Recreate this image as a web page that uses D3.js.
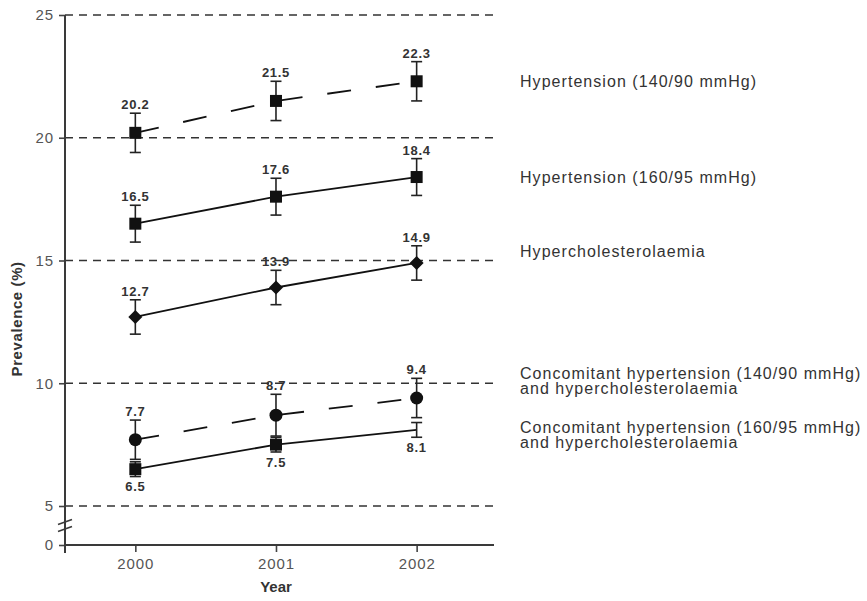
<!DOCTYPE html>
<html>
<head>
<meta charset="utf-8">
<script src="https://cdn.jsdelivr.net/npm/d3@7"></script>
<style>
  body { margin: 0; background: #fff; }
  svg { font-family: "Liberation Sans", Arial, Helvetica, sans-serif; }
</style>
</head>
<body>
<div id="container"></div>
<script>
// years on the x axis and tick values
const years = [2000, 2001, 2002];
const yTicks = [0, 5, 10, 15, 20, 25];
const gridValues = [5, 10, 15, 20, 25];

// prevalence (%) by year, with error half-widths
const htn14090 = [20.2, 21.5, 22.3];
const htn14090Err = [0.8, 0.8, 0.8];
const htn16095 = [16.5, 17.6, 18.4];
const htn16095Err = [0.75, 0.75, 0.75];
const hyperchol = [12.7, 13.9, 14.9];
const hypercholErr = [0.7, 0.7, 0.7];
const conc14090 = [7.7, 8.7, 9.4];
const conc14090Err = [0.8, 0.85, 0.8];
const conc16095 = [6.5, 7.5, 8.1];
const conc16095Err = [0.3, 0.3, 0.3];

const seriesNames = [
  ["Hypertension (140/90 mmHg)"],
  ["Hypertension (160/95 mmHg)"],
  ["Hypercholesterolaemia"],
  ["Concomitant hypertension (140/90 mmHg)", "and hypercholesterolaemia"],
  ["Concomitant hypertension (160/95 mmHg)", "and hypercholesterolaemia"]
];

const series = [
  {name: seriesNames[0], values: htn14090, err: htn14090Err, shape: "square", dashed: true, labelBelow: false, legendDy: 6},
  {name: seriesNames[1], values: htn16095, err: htn16095Err, shape: "square", dashed: false, labelBelow: false, legendDy: 6},
  {name: seriesNames[2], values: hyperchol, err: hypercholErr, shape: "diamond", dashed: false, labelBelow: false, legendDy: -6},
  {name: seriesNames[3], values: conc14090, err: conc14090Err, shape: "circle", dashed: true, labelBelow: false, legendDy: -19},
  {name: seriesNames[4], values: conc16095, err: conc16095Err, shape: "square", dashed: false, labelBelow: true, legendDy: 3, hideMarker: [2]}
];

const width = 867;
const height = 601;
const marginLeft = 65;
const plotRight = 494;

const x = d3.scaleLinear()
  .domain([1999.5, 2002.55])
  .range([marginLeft, plotRight]);

// broken axis: 0..5 squeezed
const y = d3.scaleLinear()
  .domain([0, 5, 25])
  .range([545, 506, 15]);

const svg = d3.create("svg")
  .attr("width", width)
  .attr("height", height)
  .attr("viewBox", [0, 0, width, height]);

svg.append("rect").attr("width", width).attr("height", height).attr("fill", "#fff");

// dashed reference lines
svg.append("g")
  .selectAll("line")
  .data(gridValues)
  .join("line")
  .attr("x1", marginLeft)
  .attr("x2", plotRight)
  .attr("y1", d => y(d))
  .attr("y2", d => y(d))
  .attr("stroke", "#333")
  .attr("stroke-width", 1.6)
  .attr("stroke-dasharray", "8,6");

// y axis
svg.append("g")
  .attr("transform", `translate(${marginLeft},0)`)
  .call(d3.axisLeft(y).tickValues(yTicks).tickSize(6).tickPadding(5))
  .call(g => g.select(".domain").remove())
  .call(g => g.selectAll(".tick line").attr("stroke", "#444").attr("stroke-width", 1.6))
  .call(g => g.selectAll(".tick text")
    .attr("fill", "#555")
    .attr("font-size", 15)
    .attr("letter-spacing", "0.9px")
    .attr("font-family", "Liberation Sans, Arial, sans-serif"));

svg.append("line")
  .attr("x1", marginLeft).attr("x2", marginLeft)
  .attr("y1", y(25)).attr("y2", y(0) + 8)
  .attr("stroke", "#3a3a3a")
  .attr("stroke-width", 2);

// axis break marks
const yb = (y(0) + y(5)) / 2;
svg.append("g")
  .attr("stroke", "#3a3a3a")
  .attr("stroke-width", 1.6)
  .selectAll("line")
  .data([-3.5, 3.5])
  .join("line")
  .attr("x1", marginLeft - 7).attr("x2", marginLeft + 7)
  .attr("y1", d => yb + d + 2.5).attr("y2", d => yb + d - 2.5);

// x axis
svg.append("g")
  .attr("transform", `translate(0,${y(0)})`)
  .call(d3.axisBottom(x).tickValues(years).tickFormat(d3.format("d")).tickSize(7).tickPadding(6))
  .call(g => g.select(".domain").remove())
  .call(g => g.selectAll(".tick line").attr("stroke", "#444").attr("stroke-width", 1.6))
  .call(g => g.selectAll(".tick text")
    .attr("fill", "#555")
    .attr("font-size", 15)
    .attr("letter-spacing", "0.9px")
    .attr("font-family", "Liberation Sans, Arial, sans-serif"));

svg.append("line")
  .attr("x1", marginLeft).attr("x2", plotRight)
  .attr("y1", y(0)).attr("y2", y(0))
  .attr("stroke", "#3a3a3a")
  .attr("stroke-width", 2);

// axis titles
svg.append("text")
  .attr("x", x(2001))
  .attr("y", 592)
  .attr("text-anchor", "middle")
  .attr("font-size", 15)
  .attr("font-weight", "bold")
  .attr("fill", "#333")
  .text("Year");

svg.append("text")
  .attr("transform", `translate(22,${(y(15) + y(10)) / 2 - 3}) rotate(-90)`)
  .attr("text-anchor", "middle")
  .attr("font-size", 15)
  .attr("letter-spacing", "0.6px")
  .attr("font-weight", "bold")
  .attr("fill", "#333")
  .text("Prevalence (%)");

const line = d3.line()
  .x((d, i) => x(years[i]))
  .y(d => y(d));

const capW = 5.5;
const markerSize = 12;

series.forEach(s => {
  const g = svg.append("g");

  g.append("path")
    .datum(s.values)
    .attr("fill", "none")
    .attr("stroke", "#111")
    .attr("stroke-width", 1.8)
    .attr("stroke-dasharray", s.dashed ? "24,25" : null)
    .attr("d", line);

  const pts = s.values.map((v, i) => ({year: years[i], v, e: s.err[i], i}));

  // error bars
  const eb = g.append("g").attr("stroke", "#222").attr("stroke-width", 1.6);
  eb.selectAll(".v").data(pts).join("line")
    .attr("x1", d => x(d.year)).attr("x2", d => x(d.year))
    .attr("y1", d => y(d.v + d.e)).attr("y2", d => y(d.v - d.e));
  eb.selectAll(".top").data(pts).join("line")
    .attr("x1", d => x(d.year) - capW).attr("x2", d => x(d.year) + capW)
    .attr("y1", d => y(d.v + d.e)).attr("y2", d => y(d.v + d.e));
  eb.selectAll(".bot").data(pts).join("line")
    .attr("x1", d => x(d.year) - capW).attr("x2", d => x(d.year) + capW)
    .attr("y1", d => y(d.v - d.e)).attr("y2", d => y(d.v - d.e));

  // markers
  const shown = pts.filter(d => !(s.hideMarker || []).includes(d.i));
  if (s.shape === "circle") {
    g.selectAll("circle").data(shown).join("circle")
      .attr("cx", d => x(d.year)).attr("cy", d => y(d.v))
      .attr("r", 6.5).attr("fill", "#111");
  } else if (s.shape === "square") {
    g.selectAll("rect").data(shown).join("rect")
      .attr("x", d => x(d.year) - markerSize / 2).attr("y", d => y(d.v) - markerSize / 2)
      .attr("width", markerSize).attr("height", markerSize).attr("fill", "#111");
  } else {
    g.selectAll("path.m").data(shown).join("path")
      .attr("class", "m")
      .attr("d", d3.symbol(d3.symbolSquare, 98))
      .attr("transform", d => `translate(${x(d.year)},${y(d.v)}) rotate(45)`)
      .attr("fill", "#111");
  }

  // value labels
  g.selectAll("text.val").data(pts).join("text")
    .attr("class", "val")
    .attr("x", d => x(d.year))
    .attr("y", d => s.labelBelow ? y(d.v) + 22 : y(d.v + d.e) - 4)
    .attr("text-anchor", "middle")
    .attr("font-size", 13)
    .attr("font-weight", "bold")
    .attr("letter-spacing", "0.7px")
    .attr("fill", "#333")
    .text(d => d3.format(".1f")(d.v));

  // series label on the right
  const last = s.values[s.values.length - 1];
  g.append("text")
    .attr("x", 520)
    .attr("y", y(last) + s.legendDy)
    .attr("font-size", 16)
    .attr("letter-spacing", "1.05px")
    .attr("fill", "#333")
    .selectAll("tspan")
    .data(s.name)
    .join("tspan")
    .attr("x", 520)
    .attr("dy", (d, i) => i === 0 ? 0 : 15.5)
    .text(d => d);
});

document.getElementById("container").append(svg.node());
</script>
</body>
</html>
